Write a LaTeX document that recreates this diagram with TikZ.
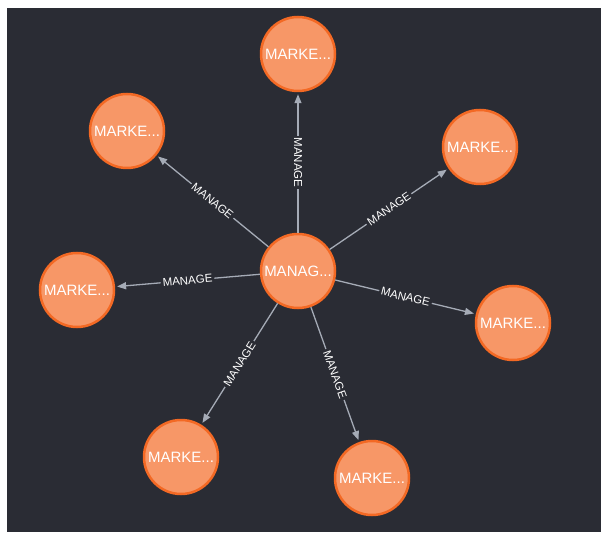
\documentclass[tikz,border=0pt]{standalone}
\usepackage{fontspec}
\setmainfont{Liberation Sans}
\usetikzlibrary{arrows.meta}
\definecolor{canvas}{HTML}{2A2C34}
\definecolor{nodefill}{HTML}{F79767}
\definecolor{nodeline}{HTML}{F36924}
\definecolor{relline}{HTML}{A5ABB6}
\begin{document}
\begin{tikzpicture}[x=1pt,y=-1pt,
  entity/.style={circle, fill=nodefill, draw=nodeline, line width=2.5pt,
    minimum size=74pt, inner sep=0pt, text=white,
    font=\fontsize{15}{17}\selectfont},
  rel/.style={draw=relline, line width=1.3pt,
    -{Triangle[length=9pt,width=7pt]}, shorten >=2pt},
  tag/.style={fill=canvas, text=white, inner sep=2pt,
    font=\fontsize{11.5}{13}\selectfont}]
  % frame and canvas
  \fill[white] (0,0) rectangle (604,534);
  \fill[canvas] (7,8) rectangle (601,532);
  \useasboundingbox (0,0) rectangle (604,534);

  % entities
  \node[entity] (hub) at (298,271) {MANAG...};
  \node[entity] (m1) at (298,54)  {MARKE...};
  \node[entity] (m2) at (127,131) {MARKE...};
  \node[entity] (m3) at (480,147) {MARKE...};
  \node[entity] (m4) at (77,290)  {MARKE...};
  \node[entity] (m5) at (513,323) {MARKE...};
  \node[entity] (m6) at (181,457) {MARKE...};
  \node[entity] (m7) at (372,478) {MARKE...};

  % relationships
  \draw[rel] (hub) -- node[tag, rotate=-90]   {MANAGE} (m1);
  \draw[rel] (hub) -- node[tag, rotate=-39.3] {MANAGE} (m2);
  \draw[rel] (hub) -- node[tag, rotate=34.3]  {MANAGE} (m3);
  \draw[rel] (hub) -- node[tag, rotate=4.9]   {MANAGE} (m4);
  \draw[rel] (hub) -- node[tag, rotate=-13.6] {MANAGE} (m5);
  \draw[rel] (hub) -- node[tag, rotate=57.8]  {MANAGE} (m6);
  \draw[rel] (hub) -- node[tag, rotate=-70.3] {MANAGE} (m7);
\end{tikzpicture}
\end{document}
